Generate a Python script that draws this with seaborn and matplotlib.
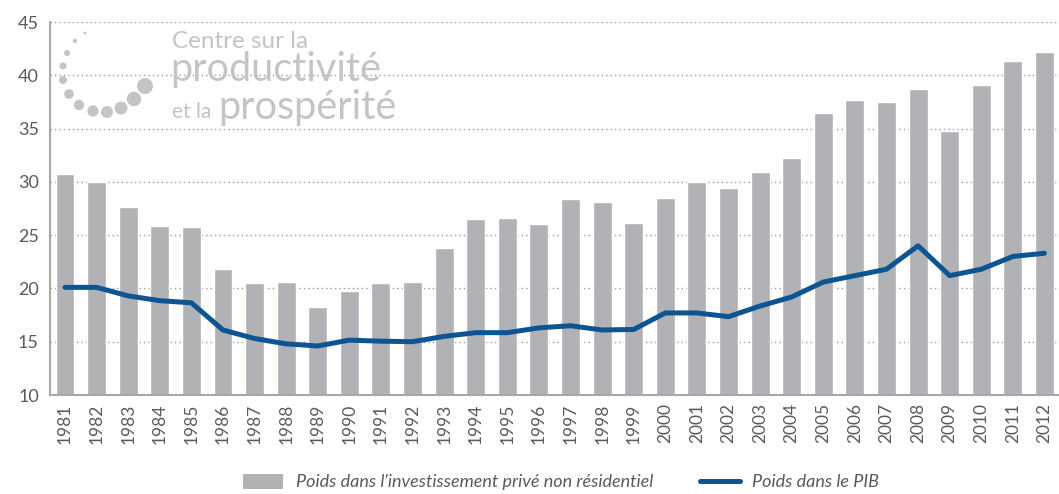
import numpy as np
import pandas as pd
import matplotlib
matplotlib.use("Agg")
import matplotlib.pyplot as plt
from matplotlib.patches import Ellipse, Patch
from matplotlib.lines import Line2D
import seaborn as sns

years = [str(y) for y in range(1981, 2013)]
invest_share = [30.7, 30.0, 27.6, 25.85, 25.75, 21.8, 20.5, 20.6, 18.3, 19.75,
                20.5, 20.6, 23.8, 26.5, 26.6, 26.0, 28.4, 28.1, 26.1, 28.5,
                30.0, 29.4, 30.9, 32.2, 36.5, 37.7, 37.5, 38.7, 34.8, 39.1,
                41.3, 42.2]
gdp_share = [20.1, 20.1, 19.3, 18.85, 18.65, 16.1, 15.3, 14.8, 14.6, 15.15,
             15.05, 15.0, 15.5, 15.85, 15.85, 16.3, 16.5, 16.1, 16.15, 17.7,
             17.7, 17.35, 18.35, 19.2, 20.6, 21.2, 21.8, 24.0, 21.2, 21.8,
             23.0, 23.3]
y_ticks = [10, 15, 20, 25, 30, 35, 40, 45]
label_bar = "Poids dans l'investissement privé non résidentiel"
label_line = "Poids dans le PIB"

BAR = "#b1b2b5"
LINE = "#0d5592"
TXT = "#5a5a5a"
LOGO = "#c4c4c4"

W, H = 1059, 494

sns.set_theme(style="white")
plt.rcParams["font.family"] = ["Lato", "DejaVu Sans"]

df = pd.DataFrame({"annee": years, "invest": invest_share, "pib": gdp_share})
df["pos"] = np.arange(len(df))

fig = plt.figure(figsize=(W / 100, H / 100), dpi=100)
ax = fig.add_axes([50 / W, 99 / H, 1 - 50 / W, 373 / H])

sns.barplot(data=df, x="annee", y="invest", color=BAR, width=0.6,
            saturation=1, ax=ax, zorder=2)
sns.lineplot(data=df, x="pos", y="pib", color=LINE, linewidth=3.6,
             ax=ax, zorder=3)

ax.set_ylim(10, 45)
ax.set_xlim(-0.475, 31.46)
ax.set_yticks(y_ticks)
ax.set_xticks(range(len(years)))
ax.set_xticklabels(years, rotation=90, fontsize=12.5, color=TXT)
ax.tick_params(axis="y", labelsize=13, colors=TXT, length=0, pad=8)
ax.tick_params(axis="x", length=0, pad=6)
ax.set_xlabel("")
ax.set_ylabel("")
for t in ax.get_yticklabels():
    t.set_color(TXT)

for v in y_ticks[1:]:
    ax.axhline(v, color="#9a9a9a", linestyle=(0, (1, 2.2)), linewidth=1.0, zorder=1)

for side in ["top", "right"]:
    ax.spines[side].set_visible(False)
for side in ["left", "bottom"]:
    ax.spines[side].set_color("#a8a8a8")
    ax.spines[side].set_linewidth(1.5)

# Logo: arc of dots and the centre's name
dots = [(85, 33, 1.5), (75, 41, 2.2), (67, 53, 3.0), (63, 66, 3.5), (63, 80, 4),
        (69, 94, 4.8), (79, 105, 5.2), (93, 111, 5.6), (107, 112, 6.0),
        (121, 108, 6.5), (134, 99, 7.2), (145, 86, 8.0)]
for (px, py, r) in dots:
    fig.add_artist(Ellipse((px / W, 1 - py / H), 2 * r / W, 2 * r / H,
                           transform=fig.transFigure, facecolor=LOGO,
                           edgecolor="none", zorder=4))
fig.text(172 / W, 1 - 42 / H, "Centre sur la", fontsize=17.5, color=LOGO,
         va="center", ha="left")
fig.text(170 / W, 1 - 81 / H, "productivité", fontsize=28.5, color=LOGO,
         va="baseline", ha="left")
fig.text(172 / W, 1 - 118 / H, "et la", fontsize=15, color=LOGO,
         va="baseline", ha="left")
fig.text(218 / W, 1 - 119 / H, "prospérité", fontsize=28.5, color=LOGO,
         va="baseline", ha="left")

handles = [Patch(facecolor=BAR, edgecolor="none"),
           Line2D([0], [0], color=LINE, linewidth=3.6)]
fig.legend(handles, [label_bar, label_line], loc="center", ncol=2,
           bbox_to_anchor=(0.53, 1 - 482 / H), frameon=False,
           prop={"style": "italic", "size": 13}, labelcolor=TXT,
           handlelength=2.2, handleheight=0.9, columnspacing=2.6, handletextpad=0.7)

fig.savefig("out.png", dpi=100)
